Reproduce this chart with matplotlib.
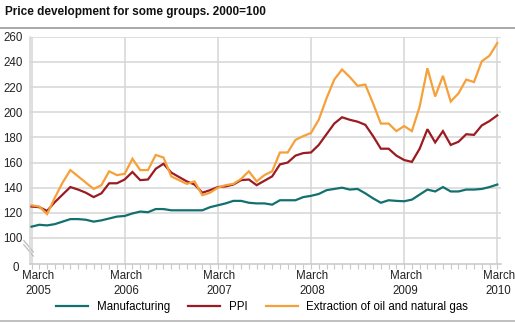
import matplotlib
matplotlib.use("Agg")
import matplotlib.pyplot as plt
import matplotlib.transforms as mtransforms
from matplotlib.lines import Line2D
import numpy as np

plt.rcParams["font.family"] = ["Liberation Sans", "DejaVu Sans"]

# Monthly index values, March 2005 - March 2010 (2000=100)
manufacturing = [109, 110.5, 110, 111, 113, 115, 115, 114.5, 113, 114, 115.5, 117,
                 117.5, 119.5, 121, 120.5, 123, 123, 122, 122, 122, 122, 122, 124.5,
                 126, 127.5, 129.5, 129.5, 128, 127.5, 127.5, 126.5, 130, 130, 130, 132.5,
                 133.5, 135, 138, 139, 140, 138.5, 139, 135.5, 131.5, 128, 130, 129.5,
                 129.2, 130.5, 134.5, 138.5, 137, 140.5, 137, 137, 138.5, 138.5, 139, 140.5,
                 142.5]
ppi = [125, 124.5, 121.5, 128.5, 134.5, 140.5, 138.5, 136, 132.5, 135.5, 143.5, 143.5,
       146.5, 152.5, 146, 146.5, 155, 159, 152, 148.5, 145, 142.5, 136, 138,
       140.5, 141, 142.5, 146, 146.5, 142, 145.5, 149, 158.5, 160, 165.5, 167.5,
       168, 174, 182.5, 191, 196, 194, 192.5, 190, 181, 171, 171, 165.5,
       162, 160.5, 171, 186.5, 176, 185, 174, 176.5, 182.5, 182, 189.5, 193,
       197.5]
oil_gas = [126, 125, 119, 132, 144, 154, 149, 144, 139, 142, 153, 150,
           151, 163, 154, 154, 166, 164, 149, 146, 143, 145, 134, 136,
           140, 142, 143, 147, 153, 145, 150, 153, 168, 168, 178, 181,
           183.5, 194, 211, 226, 234, 228, 221, 222, 207, 191, 191, 185,
           189, 185, 204.5, 235, 212.5, 229, 208.5, 215, 226, 224, 240.5, 245,
           255]
series_names = ["Manufacturing", "PPI", "Extraction of oil and natural gas"]
series_colors = ["#12706f", "#9a1b22", "#f6a03a"]
year_labels = ["March\n2005", "March\n2006", "March\n2007",
               "March\n2008", "March\n2009", "March\n2010"]
y_ticks = [100, 120, 140, 160, 180, 200, 220, 240, 260]

W, H = 515, 323
fig = plt.figure(figsize=(W / 100, H / 100), dpi=100)

# plot area in pixel coordinates
left_px, right_px, top_px, bottom_px = 29.5, 500.7, 36.8, 264.0
ax = fig.add_axes([left_px / W, 1 - bottom_px / H,
                   (right_px - left_px) / W, (bottom_px - top_px) / H])

months = np.arange(len(ppi))
grid_col = "#d6d6d6"
txt_col = "#222222"
fs = 8.3

for vals, name, col in zip([manufacturing, ppi, oil_gas], series_names, series_colors):
    ax.plot(months, vals, color=col, lw=1.6, label=name, solid_joinstyle="miter", zorder=3)

ax.set_xlim(-0.26, 60.44)
ax.set_ylim(79.3, 260)

ax.set_yticks(y_ticks)
ax.set_yticklabels([str(v) for v in y_ticks])
ax.set_xticks(np.arange(0, 61, 12))
ax.set_xticklabels(year_labels, linespacing=1.3)
ax.set_xticks(months, minor=True)

ax.grid(axis="y", color=grid_col, lw=1.1)
ax.grid(axis="x", which="major", color=grid_col, lw=1.1)
ax.set_axisbelow(True)

for s in ["top", "right"]:
    ax.spines[s].set_visible(False)
ax.spines["left"].set_color(grid_col)
ax.spines["left"].set_linewidth(1.1)
ax.spines["bottom"].set_color("#c8c8c8")
ax.spines["bottom"].set_linewidth(1.1)

ax.tick_params(axis="y", length=0, pad=5, labelsize=fs, colors=txt_col)
ax.tick_params(axis="x", which="both", length=3.5, width=0.8, color="#c8c8c8",
               labelsize=fs, labelcolor=txt_col, pad=1.0)

# nudge the year labels slightly right; the first one more so it clears the "0"
xlabels = ax.get_xticklabels()
for k, lab in enumerate(xlabels):
    dx = 7 if k == 0 else 1.5
    lab.set_transform(lab.get_transform() +
                      mtransforms.ScaledTranslation(dx / 100, 0, fig.dpi_scale_trans))

# zero label and axis-break marks below the 100 line
ax.text(-0.022, -0.018, "0", transform=ax.transAxes, ha="right", va="center",
        fontsize=fs, color=txt_col)
for dy in (0.0, 0.018):
    ax.plot([-0.012, 0.008], [0.085 + dy, 0.035 + dy], transform=ax.transAxes,
            color="#bbbbbb", lw=0.9, clip_on=False)

# title and rules
fig.text(5 / W, 1 - 12 / H, "Price development for some groups. 2000=100",
         fontsize=8.45, fontweight="bold", ha="left", va="center", color="#111111")
fig.add_artist(Line2D([0, 1], [1 - 27.5 / H, 1 - 27.5 / H], transform=fig.transFigure,
                      color="#9a9a9a", lw=1.2))
fig.add_artist(Line2D([0, 1], [1 - 320.5 / H, 1 - 320.5 / H], transform=fig.transFigure,
                      color="#b5b5b5", lw=1.2))

handles, labels = ax.get_legend_handles_labels()
fig.legend(handles, labels, loc="center", ncol=3, frameon=False,
           bbox_to_anchor=(262 / W, 1 - 307 / H), fontsize=fs,
           handlelength=2.8, handletextpad=0.7, columnspacing=1.6)

fig.savefig("out.png", dpi=100)
